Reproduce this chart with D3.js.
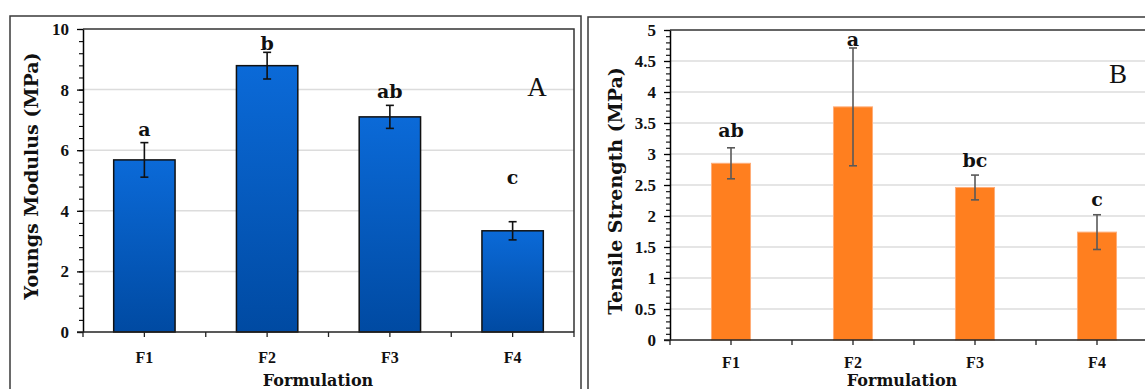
<!DOCTYPE html>
<html>
<head>
<meta charset="utf-8">
<script src="https://cdn.jsdelivr.net/npm/d3@7"></script>
<style>
  body { margin: 0; background: #fff; }
  svg { display: block; }
</style>
</head>
<body>
<div class="chart"></div>
<script>
const categories = ['F1', 'F2', 'F3', 'F4'];

const youngsValues = [5.68, 8.79, 7.1, 3.34];
const youngsErrors = [0.57, 0.44, 0.38, 0.3];
const youngsLetters = ['a', 'b', 'ab', 'c'];
const youngsTicks = [0, 2, 4, 6, 8, 10];

const tensileValues = [2.85, 3.76, 2.46, 1.74];
const tensileErrors = [0.25, 0.95, 0.2, 0.28];
const tensileLetters = ['ab', 'a', 'bc', 'c'];
const tensileTicks = [0, 0.5, 1, 1.5, 2, 2.5, 3, 3.5, 4, 4.5, 5];

const serif = "'Liberation Serif', 'DejaVu Serif', serif";
const wideSerif = "'DejaVu Serif', 'Liberation Serif', serif";

const svg = d3.select('.chart').append('svg')
    .attr('width', 1145)
    .attr('height', 389);

const defs = svg.append('defs');
const grad = defs.append('linearGradient')
    .attr('id', 'blueGrad')
    .attr('x1', 0).attr('y1', 0).attr('x2', 0).attr('y2', 1);
grad.append('stop').attr('offset', '0%').attr('stop-color', '#0b6ad8');
grad.append('stop').attr('offset', '100%').attr('stop-color', '#004aa2');

function drawPanel(opt) {
    const g = svg.append('g');

    // outer frame
    g.append('rect')
        .attr('x', opt.frame.x).attr('y', opt.frame.y)
        .attr('width', opt.frame.w).attr('height', opt.frame.h)
        .attr('fill', 'none')
        .attr('stroke', '#3a3a3a')
        .attr('stroke-width', 1.5);

    const x = d3.scaleBand()
        .domain(categories)
        .range([opt.left, opt.right]);

    const y = d3.scaleLinear()
        .domain([0, opt.max])
        .range([opt.bottom, opt.top]);

    // gridlines
    g.append('g')
        .selectAll('line')
        .data(opt.ticks.filter(t => t > 0 && t < opt.max))
        .join('line')
        .attr('x1', opt.left).attr('x2', opt.right)
        .attr('y1', d => y(d)).attr('y2', d => y(d))
        .attr('stroke', '#dcdcdc')
        .attr('stroke-width', 1.5);

    // plot border (top + right)
    g.append('path')
        .attr('d', `M${opt.left},${opt.top}H${opt.right}V${opt.bottom}`)
        .attr('fill', 'none')
        .attr('stroke', '#333')
        .attr('stroke-width', 1.5);

    // bars
    const bw = x.bandwidth() * opt.barFrac;
    g.append('g')
        .selectAll('rect')
        .data(opt.values)
        .join('rect')
        .attr('x', (d, i) => x(categories[i]) + (x.bandwidth() - bw) / 2)
        .attr('y', d => y(d))
        .attr('width', bw)
        .attr('height', d => opt.bottom - y(d))
        .attr('fill', opt.fill)
        .attr('stroke', opt.barStroke)
        .attr('stroke-width', opt.barStrokeWidth);

    // error bars
    const eb = g.append('g')
        .attr('stroke', opt.errColor)
        .attr('stroke-width', 1.6);
    opt.values.forEach((v, i) => {
        const cx = x(categories[i]) + x.bandwidth() / 2;
        const hi = y(v + opt.errors[i]), lo = y(v - opt.errors[i]);
        eb.append('line').attr('x1', cx).attr('x2', cx).attr('y1', hi).attr('y2', lo);
        eb.append('line').attr('x1', cx - 4).attr('x2', cx + 4).attr('y1', hi).attr('y2', hi);
        eb.append('line').attr('x1', cx - 4).attr('x2', cx + 4).attr('y1', lo).attr('y2', lo);
    });

    // significance letters
    g.append('g')
        .selectAll('text')
        .data(opt.letters)
        .join('text')
        .attr('x', (d, i) => x(categories[i]) + x.bandwidth() / 2)
        .attr('y', (d, i) => y(opt.values[i] + opt.errors[i]) + opt.letterOffset[i])
        .attr('text-anchor', 'middle')
        .style('font', `bold 19px ${wideSerif}`)
        .attr('fill', '#111')
        .text(d => d);

    // y axis with minor ticks
    const yAxis = g.append('g')
        .attr('transform', `translate(${opt.left},0)`);
    yAxis.call(d3.axisLeft(y).tickValues(opt.minor).tickSize(4).tickFormat(''))
        .call(a => a.select('.domain').remove());
    yAxis.selectAll('.tick line').attr('stroke-width', 1.1);
    g.append('g')
        .attr('transform', `translate(${opt.left},0)`)
        .call(d3.axisLeft(y).tickValues(opt.ticks).tickSize(6).tickPadding(8)
            .tickSizeOuter(0).tickFormat(d => String(d)))
        .call(a => a.select('.domain').attr('stroke-width', 1.5))
        .call(a => a.selectAll('.tick line').attr('stroke-width', 1.3))
        .call(a => a.selectAll('.tick text')
            .style('font', `bold 17px ${serif}`)
            .attr('fill', '#111'));

    // x axis: ticks at boundaries and centres
    const xEdges = d3.range(categories.length + 1).map(i => opt.left + i * x.bandwidth());
    const xCentres = categories.map(c => x(c) + x.bandwidth() / 2);
    const xa = g.append('g');
    xa.append('line')
        .attr('x1', opt.left - 6).attr('x2', opt.right)
        .attr('y1', opt.bottom).attr('y2', opt.bottom)
        .attr('stroke', '#222').attr('stroke-width', 1.5);
    xa.selectAll('line.tk')
        .data(xEdges.concat(xCentres))
        .join('line')
        .attr('class', 'tk')
        .attr('x1', d => d).attr('x2', d => d)
        .attr('y1', opt.bottom).attr('y2', opt.bottom + 5)
        .attr('stroke', '#222').attr('stroke-width', 1.3);
    xa.selectAll('text')
        .data(categories)
        .join('text')
        .attr('x', d => x(d) + x.bandwidth() / 2)
        .attr('y', opt.bottom + opt.xLabelGap)
        .attr('text-anchor', 'middle')
        .style('font', `bold 16px ${serif}`)
        .attr('fill', '#111')
        .text(d => d);

    // axis titles
    g.append('text')
        .attr('x', opt.xTitleX).attr('y', 386)
        .attr('text-anchor', 'middle')
        .style('font', `bold 16px ${wideSerif}`)
        .attr('fill', '#111')
        .text('Formulation');

    g.append('text')
        .attr('transform', `translate(${opt.yTitleX},${opt.yTitleY}) rotate(-90)`)
        .attr('text-anchor', 'middle')
        .style('font', `bold 19px ${wideSerif}`)
        .attr('fill', '#111')
        .text(opt.yTitle);

    // panel letter
    g.append('text')
        .attr('x', opt.tag.x).attr('y', opt.tag.y)
        .attr('text-anchor', 'middle')
        .style('font', `27px ${serif}`)
        .attr('fill', '#111')
        .text(opt.tag.text);
}

drawPanel({
    frame: {x: 10, y: 16, w: 571, h: 390},
    left: 83, right: 574, top: 29, bottom: 332,
    max: 10,
    ticks: youngsTicks,
    minor: d3.range(0, 10.01, 0.4),
    values: youngsValues,
    errors: youngsErrors,
    letters: youngsLetters,
    letterOffset: [-7, -2, -7, -38],
    barFrac: 0.5,
    fill: 'url(#blueGrad)',
    barStroke: '#111',
    barStrokeWidth: 1.5,
    errColor: '#111',
    xLabelGap: 31,
    xTitleX: 318,
    yTitleX: 38, yTitleY: 176,
    yTitle: 'Youngs Modulus (MPa)',
    tag: {x: 537, y: 96, text: 'A'}
});

drawPanel({
    frame: {x: 588, y: 17, w: 600, h: 390},
    left: 670, right: 1158, top: 30, bottom: 340,
    max: 5,
    ticks: tensileTicks,
    minor: d3.range(0, 5.001, 0.1),
    values: tensileValues,
    errors: tensileErrors,
    letters: tensileLetters,
    letterOffset: [-11, -2, -8, -9],
    barFrac: 0.32,
    fill: '#ff7f1f',
    barStroke: '#ffad78',
    barStrokeWidth: 1,
    errColor: '#595959',
    xLabelGap: 28,
    xTitleX: 902,
    yTitleX: 622, yTitleY: 191,
    yTitle: 'Tensile Strength (MPa)',
    tag: {x: 1118, y: 83, text: 'B'}
});
</script>
</body>
</html>
